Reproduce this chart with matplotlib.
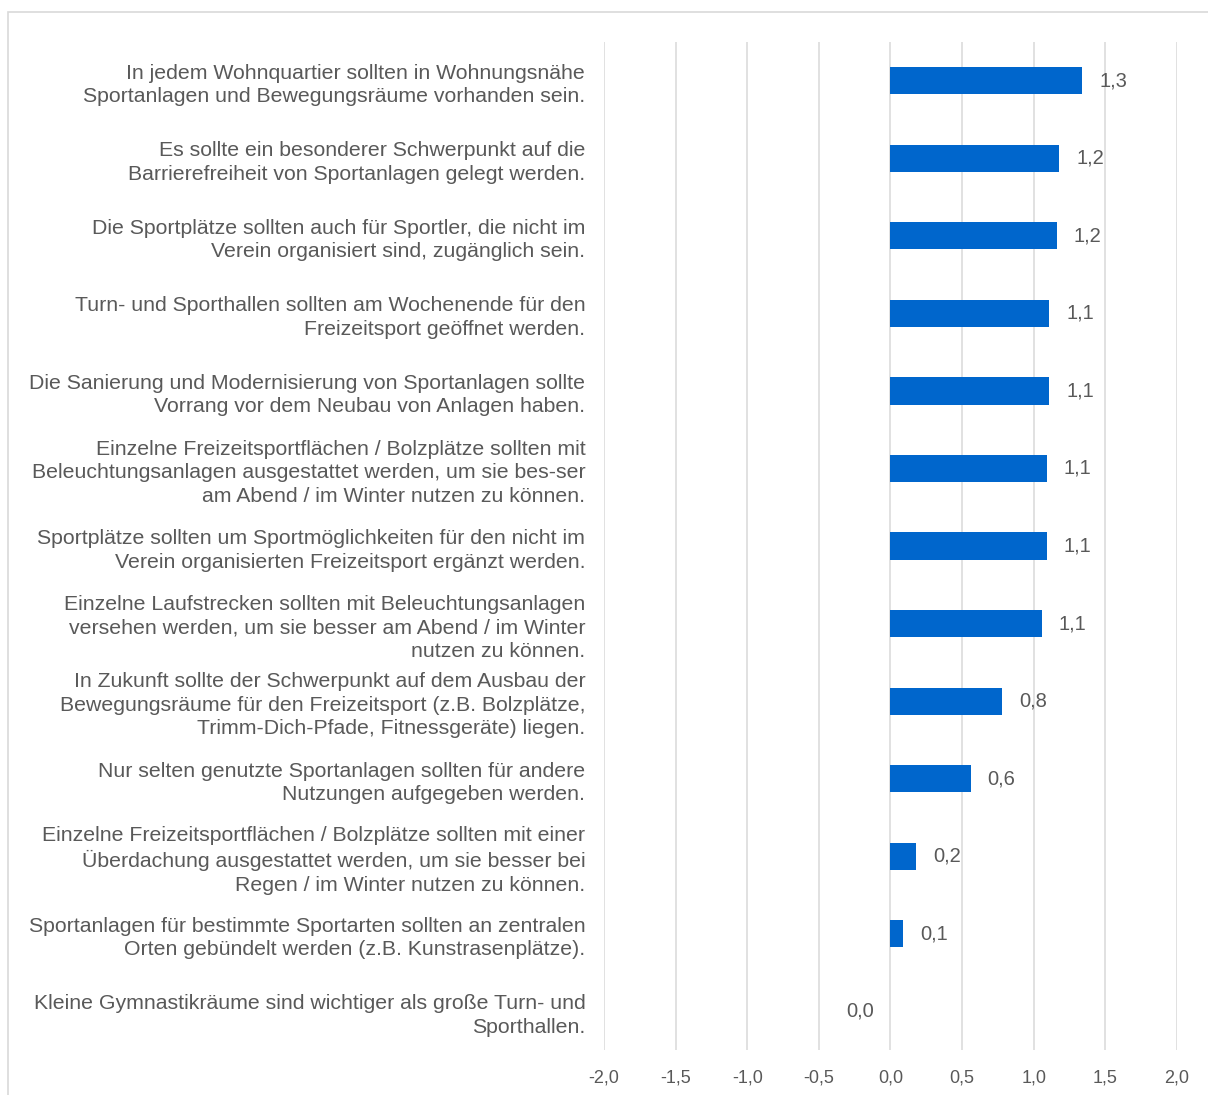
import numpy as np
import matplotlib.pyplot as plt
from matplotlib.patches import Rectangle

plt.rcParams['font.family'] = ['Liberation Sans', 'DejaVu Sans']

# Aussagen (von oben nach unten) und Mittelwerte der Zustimmung
aussagen = [
    "In jedem Wohnquartier sollten in Wohnungsnähe\nSportanlagen und Bewegungsräume vorhanden sein.",
    "Es sollte ein besonderer Schwerpunkt auf die\nBarrierefreiheit von Sportanlagen gelegt werden.",
    "Die Sportplätze sollten auch für Sportler, die nicht im\nVerein organisiert sind, zugänglich sein.",
    "Turn- und Sporthallen sollten am Wochenende für den\nFreizeitsport geöffnet werden.",
    "Die Sanierung und Modernisierung von Sportanlagen sollte\nVorrang vor dem Neubau von Anlagen haben.",
    "Einzelne Freizeitsportflächen / Bolzplätze sollten mit\nBeleuchtungsanlagen ausgestattet werden, um sie bes-ser\nam Abend / im Winter nutzen zu können.",
    "Sportplätze sollten um Sportmöglichkeiten für den nicht im\nVerein organisierten Freizeitsport ergänzt werden.",
    "Einzelne Laufstrecken sollten mit Beleuchtungsanlagen\nversehen werden, um sie besser am Abend / im Winter\nnutzen zu können.",
    "In Zukunft sollte der Schwerpunkt auf dem Ausbau der\nBewegungsräume für den Freizeitsport (z.B. Bolzplätze,\nTrimm-Dich-Pfade, Fitnessgeräte) liegen.",
    "Nur selten genutzte Sportanlagen sollten für andere\nNutzungen aufgegeben werden.",
    "Einzelne Freizeitsportflächen / Bolzplätze sollten mit einer\nÜberdachung ausgestattet werden, um sie besser bei\nRegen / im Winter nutzen zu können.",
    "Sportanlagen für bestimmte Sportarten sollten an zentralen\nOrten gebündelt werden (z.B. Kunstrasenplätze).",
    "Kleine Gymnastikräume sind wichtiger als große Turn- und\nSporthallen.",
]
mittelwerte = [1.34, 1.18, 1.16, 1.11, 1.11, 1.09, 1.09, 1.06, 0.78, 0.56, 0.18, 0.09, 0.0]
x_ticks = [-2.0, -1.5, -1.0, -0.5, 0.0, 0.5, 1.0, 1.5, 2.0]

blau = "#0066CC"
grau_text = "#595959"
grau_linie = "#D9D9D9"


def fmt_de(v):
    return f"{v:.1f}".replace(".", ",").replace("-0,0", "0,0")


fig = plt.figure(figsize=(12.08, 10.95), dpi=100, facecolor="white")
ax = fig.add_axes([0.5, 0.0411, 0.4743, 0.9205])

y = np.arange(len(aussagen))
ax.barh(y, mittelwerte, height=0.35, color=blau, zorder=3)

for yi, v in zip(y, mittelwerte):
    if v > 0:
        ax.annotate(fmt_de(v), (v, yi), xytext=(12, 0), textcoords="offset points",
                    ha="left", va="center", fontsize=14.5, color=grau_text)
    else:
        ax.annotate(fmt_de(v), (v, yi), xytext=(-12, 0), textcoords="offset points",
                    ha="right", va="center", fontsize=14.5, color=grau_text)

ax.set_xlim(-2.0, 2.0)
ax.set_ylim(len(aussagen) - 0.5, -0.5)
ax.set_xticks(x_ticks)
ax.set_xticklabels([fmt_de(t) for t in x_ticks], fontsize=13)
ax.set_yticks(y)
ax.set_yticklabels(aussagen, linespacing=1.3, fontsize=15.3)
ax.tick_params(axis="both", length=0, labelcolor=grau_text)
ax.tick_params(axis="x", pad=14)
ax.tick_params(axis="y", pad=13.5)
for lab in ax.get_yticklabels():
    lab.set_horizontalalignment("right")
ax.grid(axis="x", color=grau_linie, linewidth=1.1, zorder=0)
for s in ax.spines.values():
    s.set_visible(False)

# dünner Rahmen um das Diagramm
fig.patches.append(Rectangle((8 / 1208, -0.1), 1.2, 1 - 12 / 1095 + 0.1,
                             transform=fig.transFigure, fill=False,
                             edgecolor=grau_linie, linewidth=1.2))

fig.savefig("out.png", dpi=100, facecolor="white")
